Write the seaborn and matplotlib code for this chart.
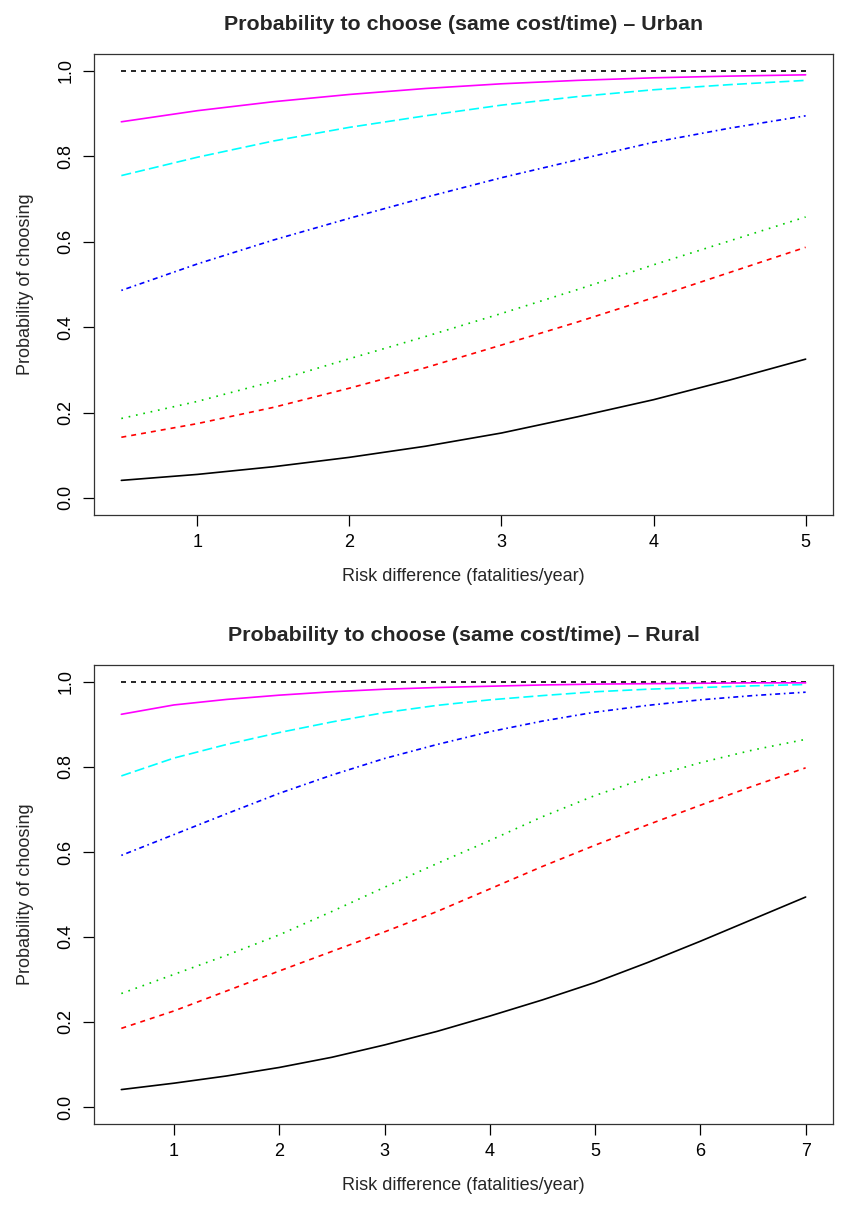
import numpy as np
import pandas as pd
import matplotlib
matplotlib.use("Agg")
import matplotlib.pyplot as plt
import seaborn as sns

# Urban panel: risk difference 0.5 .. 5
urban_x = [0.5, 1.0, 1.5, 2.0, 2.5, 3.0, 3.5, 4.0, 4.5, 5.0]
urban_black = [0.041, 0.055, 0.073, 0.095, 0.121, 0.152, 0.190, 0.230, 0.276, 0.325]
urban_red = [0.142, 0.174, 0.212, 0.257, 0.305, 0.358, 0.412, 0.469, 0.528, 0.587]
urban_green = [0.186, 0.226, 0.273, 0.326, 0.378, 0.432, 0.488, 0.546, 0.602, 0.658]
urban_blue = [0.486, 0.548, 0.604, 0.655, 0.704, 0.750, 0.792, 0.833, 0.866, 0.895]
urban_cyan = [0.755, 0.798, 0.836, 0.868, 0.895, 0.920, 0.940, 0.956, 0.968, 0.978]
urban_magenta = [0.881, 0.907, 0.928, 0.945, 0.959, 0.970, 0.978, 0.984, 0.988, 0.991]
urban_ref = [1.0] * len(urban_x)

# Rural panel: risk difference 0.5 .. 7
rural_x = [0.5, 1.0, 1.5, 2.0, 2.5, 3.0, 3.5, 4.0, 4.5, 5.0, 5.5, 6.0, 6.5, 7.0]
rural_black = [0.041, 0.056, 0.073, 0.093, 0.117, 0.146, 0.178, 0.214, 0.252, 0.293, 0.340, 0.390, 0.442, 0.494]
rural_red = [0.185, 0.226, 0.273, 0.320, 0.366, 0.412, 0.460, 0.513, 0.566, 0.616, 0.664, 0.710, 0.755, 0.798]
rural_green = [0.267, 0.312, 0.357, 0.405, 0.460, 0.517, 0.573, 0.627, 0.683, 0.733, 0.775, 0.810, 0.840, 0.865]
rural_blue = [0.592, 0.641, 0.690, 0.738, 0.781, 0.820, 0.853, 0.883, 0.908, 0.929, 0.945, 0.958, 0.968, 0.976]
rural_cyan = [0.779, 0.821, 0.853, 0.881, 0.906, 0.928, 0.945, 0.958, 0.968, 0.977, 0.983, 0.987, 0.991, 0.994]
rural_magenta = [0.924, 0.946, 0.959, 0.969, 0.977, 0.983, 0.987, 0.990, 0.993, 0.995, 0.996, 0.997, 0.998, 0.998]
rural_ref = [1.0] * len(rural_x)

# R-like line types (lty 2, 1, 2, 3, 4, 5, solid)
styles = [
    ("black", (0, (3, 3))),        # reference at 1.0
    ("black", "-"),
    ("red", (0, (3, 3))),
    ("#00CD00", (0, (1, 3.5))),
    ("blue", (0, (1, 2.2, 3, 2.2))),
    ("cyan", (0, (6, 2.5))),
    ("magenta", "-"),
]

sns.set_theme(style="ticks")
plt.rcParams["font.family"] = ["Liberation Sans", "DejaVu Sans"]

fig = plt.figure(figsize=(8.45, 12.06), dpi=100)
ax1 = fig.add_axes([0.1112, 0.5730, 0.8746, 0.3823])
ax2 = fig.add_axes([0.1112, 0.0680, 0.8746, 0.3806])


def draw_panel(ax, x, series, title, xticks):
    for (color, ls), y in zip(styles, series):
        sns.lineplot(x=x, y=y, ax=ax, color=color, linestyle=ls, linewidth=1.2)
    span = x[-1] - x[0]
    ax.set_xlim(x[0] - 0.04 * span, x[-1] + 0.04 * span)
    ax.set_ylim(-0.04, 1.04)
    ax.set_xticks(xticks)
    ax.set_yticks([0.0, 0.2, 0.4, 0.6, 0.8, 1.0])
    ax.set_yticklabels(["0.0", "0.2", "0.4", "0.6", "0.8", "1.0"], rotation=90, va="center")
    ax.tick_params(direction="out", length=8, width=0.9, labelsize=13, colors="black", pad=6)
    for sp in ax.spines.values():
        sp.set_visible(True)
        sp.set_color("#333333")
        sp.set_linewidth(0.9)
    ax.set_title(title, fontsize=15.4, fontweight="bold", pad=17)
    ax.set_xlabel("Risk difference (fatalities/year)", fontsize=13, labelpad=12)
    ax.set_ylabel("Probability of choosing", fontsize=13, labelpad=17)


draw_panel(ax1, urban_x,
           [urban_ref, urban_black, urban_red, urban_green, urban_blue, urban_cyan, urban_magenta],
           "Probability to choose (same cost/time) \u2013 Urban", [1, 2, 3, 4, 5])
draw_panel(ax2, rural_x,
           [rural_ref, rural_black, rural_red, rural_green, rural_blue, rural_cyan, rural_magenta],
           "Probability to choose (same cost/time) \u2013 Rural", [1, 2, 3, 4, 5, 6, 7])

fig.savefig("out.png", dpi=100)
